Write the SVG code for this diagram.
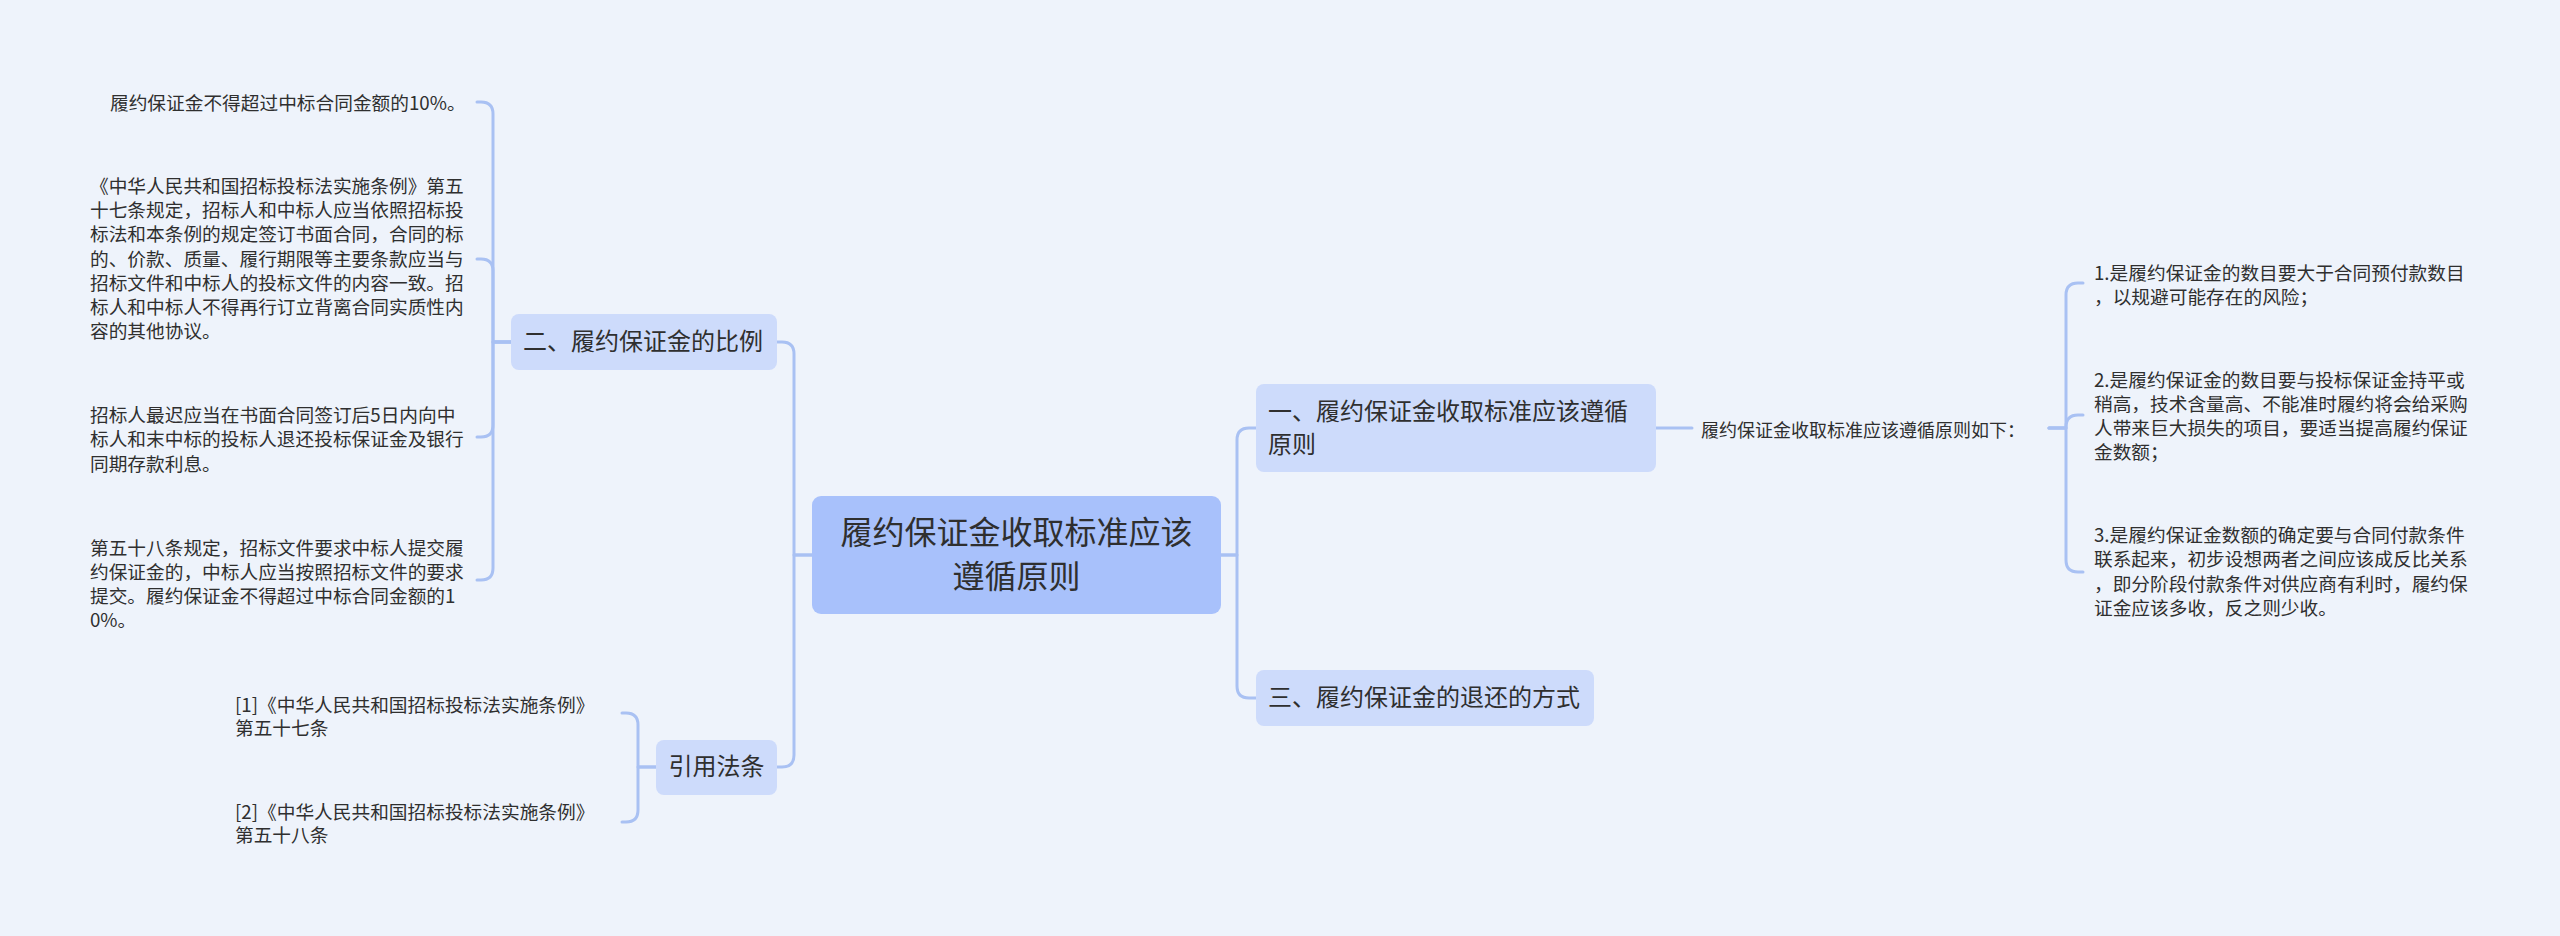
<svg xmlns="http://www.w3.org/2000/svg" width="2560" height="936" viewBox="0 0 2560 936">
<style>
.bg{fill:#eef3fb}
.c{fill:none;stroke:#a9c1f3;stroke-width:3;stroke-linecap:round;stroke-linejoin:round}
.n1{fill:#cddbfb}
.n0{fill:#a8c1fb}
text{font-family:"Noto Sans CJK SC","Noto Sans",sans-serif;fill:#2f2f2f}
.t0{font-size:32px}
.t1{font-size:24px}
.t2{font-size:18.7px}
.t3{font-size:18px}
</style>
<rect class="bg" x="0" y="0" width="2560" height="936"/>
<g id="connectors">
<path class="c" d="M812,555 H794 V354 Q794,342 782,342 H777"/>
<path class="c" d="M812,555 H794 V755 Q794,767 782,767 H777"/>
<path class="c" d="M1221,555 H1237 V440 Q1237,428 1249,428 H1256"/>
<path class="c" d="M1221,555 H1237 V686 Q1237,698 1249,698 H1256"/>
<path class="c" d="M1656,428 H1692"/>
<path class="c" d="M2049,428 H2066 V295 Q2066,283 2078,283 H2083"/>
<path class="c" d="M2049,428 H2066 V427 Q2066,415 2078,415 H2083"/>
<path class="c" d="M2049,428 H2066 V560 Q2066,572 2078,572 H2083"/>
<path class="c" d="M511,342 H493 V114 Q493,102 481,102 H477"/>
<path class="c" d="M511,342 H493 V271 Q493,259 481,259 H477"/>
<path class="c" d="M511,342 H493 V425 Q493,437 481,437 H477"/>
<path class="c" d="M511,342 H493 V568 Q493,580 481,580 H477"/>
<path class="c" d="M656,767 H638 V725 Q638,713 626,713 H622"/>
<path class="c" d="M656,767 H638 V810 Q638,822 626,822 H622"/>
</g>
<g id="root">
<rect class="n0" x="812" y="496" width="409" height="118" rx="9"/>
<text class="t0" x="1016.5" y="544" text-anchor="middle">履约保证金收取标准应该</text>
<text class="t0" x="1016.5" y="588" text-anchor="middle">遵循原则</text>
</g>
<g id="node-er">
<rect class="n1" x="511" y="314" width="266" height="56" rx="8"/>
<text class="t1" x="523" y="350">二、履约保证金的比例</text>
</g>
<g id="node-yinyong">
<rect class="n1" x="656" y="740" width="121" height="55" rx="8"/>
<text class="t1" x="716.5" y="775" text-anchor="middle">引用法条</text>
</g>
<g id="node-yi">
<rect class="n1" x="1256" y="384" width="400" height="88" rx="8"/>
<text class="t1" x="1268" y="420">一、履约保证金收取标准应该遵循</text>
<text class="t1" x="1268" y="453">原则</text>
</g>
<g id="node-san">
<rect class="n1" x="1256" y="670" width="338" height="56" rx="8"/>
<text class="t1" x="1268" y="706">三、履约保证金的退还的方式</text>
</g>
<g id="node-rule-intro">
<text class="t3" x="1701" y="437">履约保证金收取标准应该遵循原则如下：</text>
</g>
<g id="node-r1">
<text class="t2" x="2094" y="279.5">1.是履约保证金的数目要大于合同预付款数目</text>
<text class="t2" x="2094" y="303.5">，以规避可能存在的风险；</text>
</g>
<g id="node-r2">
<text class="t2" x="2094" y="386.5">2.是履约保证金的数目要与投标保证金持平或</text>
<text class="t2" x="2094" y="410.5">稍高，技术含量高、不能准时履约将会给采购</text>
<text class="t2" x="2094" y="434.5">人带来巨大损失的项目，要适当提高履约保证</text>
<text class="t2" x="2094" y="458.5">金数额；</text>
</g>
<g id="node-r3">
<text class="t2" x="2094" y="541.5">3.是履约保证金数额的确定要与合同付款条件</text>
<text class="t2" x="2094" y="566">联系起来，初步设想两者之间应该成反比关系</text>
<text class="t2" x="2094" y="590.5">，即分阶段付款条件对供应商有利时，履约保</text>
<text class="t2" x="2094" y="614.5">证金应该多收，反之则少收。</text>
</g>
<g id="node-l1">
<text class="t2" x="110" y="109.5">履约保证金不得超过中标合同金额的10%。</text>
</g>
<g id="node-l2">
<text class="t2" x="90" y="193">《中华人民共和国招标投标法实施条例》第五</text>
<text class="t2" x="90" y="217.2">十七条规定，招标人和中标人应当依照招标投</text>
<text class="t2" x="90" y="241.4">标法和本条例的规定签订书面合同，合同的标</text>
<text class="t2" x="90" y="265.6">的、价款、质量、履行期限等主要条款应当与</text>
<text class="t2" x="90" y="289.8">招标文件和中标人的投标文件的内容一致。招</text>
<text class="t2" x="90" y="314">标人和中标人不得再行订立背离合同实质性内</text>
<text class="t2" x="90" y="338.2">容的其他协议。</text>
</g>
<g id="node-l3">
<text class="t2" x="90" y="421.5">招标人最迟应当在书面合同签订后5日内向中</text>
<text class="t2" x="90" y="446">标人和末中标的投标人退还投标保证金及银行</text>
<text class="t2" x="90" y="470.5">同期存款利息。</text>
</g>
<g id="node-l4">
<text class="t2" x="90" y="554.5">第五十八条规定，招标文件要求中标人提交履</text>
<text class="t2" x="90" y="578.5">约保证金的，中标人应当按照招标文件的要求</text>
<text class="t2" x="90" y="602.5">提交。履约保证金不得超过中标合同金额的1</text>
<text class="t2" x="90" y="626.5">0%。</text>
</g>
<g id="node-c1">
<text class="t2" x="235" y="711.5">[1]《中华人民共和国招标投标法实施条例》</text>
<text class="t2" x="235" y="734.5">第五十七条</text>
</g>
<g id="node-c2">
<text class="t2" x="235" y="818.5">[2]《中华人民共和国招标投标法实施条例》</text>
<text class="t2" x="235" y="841.5">第五十八条</text>
</g>
</svg>
